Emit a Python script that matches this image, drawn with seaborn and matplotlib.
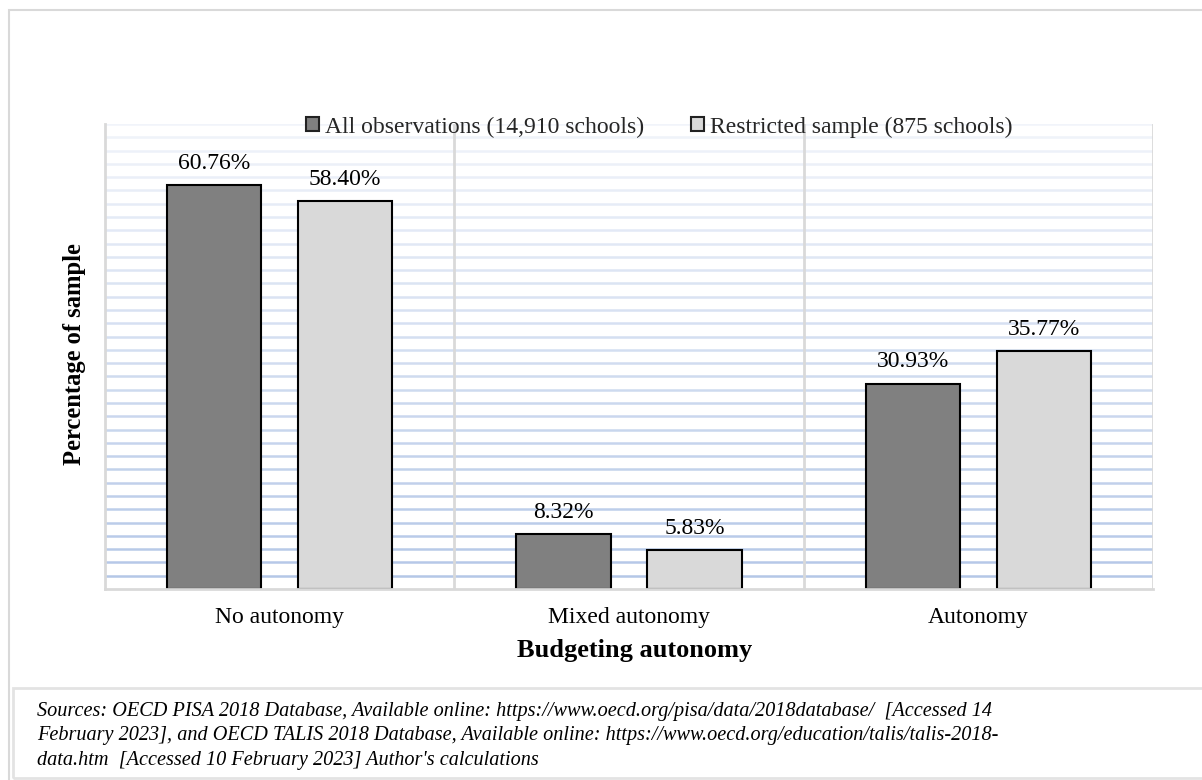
import matplotlib
matplotlib.use("Agg")
import matplotlib.pyplot as plt
import matplotlib.colors as mcolors
from matplotlib.patches import Rectangle
import seaborn as sns
import pandas as pd
import numpy as np

# ---- data ----
categories = ["No autonomy", "Mixed autonomy", "Autonomy"]
series_names = ["All observations (14,910 schools)", "Restricted sample (875 schools)"]
all_obs = [60.76, 8.32, 30.93]
restricted = [58.40, 5.83, 35.77]
x_title = "Budgeting autonomy"
y_title = "Percentage of sample"
caption = ("Sources: OECD PISA 2018 Database, Available online: https://www.oecd.org/pisa/data/2018database/  [Accessed 14\n"
           "February 2023], and OECD TALIS 2018 Database, Available online: https://www.oecd.org/education/talis/talis-2018-\n"
           "data.htm  [Accessed 10 February 2023] Author's calculations")

df = pd.DataFrame({
    "category": categories * 2,
    "series": [series_names[0]] * 3 + [series_names[1]] * 3,
    "value": all_obs + restricted,
})

sns.set_theme(style="white")
plt.rcParams["font.family"] = ["Liberation Serif", "DejaVu Serif"]

fig = plt.figure(figsize=(12.02, 7.8), dpi=100)
ax = fig.add_axes([105 / 1202, 1 - 589 / 780, 1048 / 1202, 465 / 780])

sns.barplot(data=df, x="category", y="value", hue="series", order=categories,
            hue_order=series_names, palette=["#808080", "#d9d9d9"],
            width=0.75, gap=0.28, edgecolor="black", linewidth=1.5,
            saturation=1, ax=ax, legend=True)

ax.set_ylim(0, 70)
ax.set_xlim(-0.5, 2.5)

# horizontal gridlines every 2%, fading from blue at the bottom to pale at the top
ax.set_yticks(np.arange(0, 72, 2))
ax.tick_params(axis="y", length=0, labelleft=False)
lo = np.array(mcolors.to_rgb("#b4c7e7"))
hi = np.array(mcolors.to_rgb("#f1f4fa"))
for y in np.arange(2, 72, 2):
    t = (y - 2) / (70 - 2)
    ax.axhline(y, color=tuple(lo * (1 - t) + hi * t), lw=1.8, zorder=0)

# vertical category separators
for xv in [0.5, 1.5, 2.5]:
    ax.axvline(xv, color="#d9d9d9", lw=2.0, zorder=0.5)

for side in ["top", "right"]:
    ax.spines[side].set_visible(False)
for side in ["left", "bottom"]:
    ax.spines[side].set_color("#d9d9d9")
    ax.spines[side].set_linewidth(2.0)

# value labels
for cont in ax.containers:
    ax.bar_label(cont, labels=[f"{v:.2f}%" for v in cont.datavalues],
                 padding=8, fontsize=17, color="black")

ax.tick_params(axis="x", length=0, pad=13, labelsize=17, labelcolor="black")
ax.set_xlabel(x_title, fontsize=19, fontweight="bold", color="black")
ax.xaxis.set_label_coords(0.505, -0.107)
ax.set_ylabel(y_title, fontsize=17.7, fontweight="bold", color="black")
ax.yaxis.set_label_coords(-0.018, 0.505)

# legend across the top
handles, labels = ax.get_legend_handles_labels()
ax.legend_.remove()
for h in handles:
    h.set_edgecolor("#222222")
    h.set_linewidth(1.5)
fig.legend(handles, labels, loc="center", bbox_to_anchor=(659 / 1202, 1 - 127 / 780),
           ncol=2, frameon=False, fontsize=17, handlelength=0.55, handleheight=0.55,
           handletextpad=0.25, columnspacing=2.0, borderpad=0)

# outer frame and caption box
fig.patches.append(Rectangle((9 / 1202, -0.01), 1.02, 1 - 10 / 780 + 0.01,
                             transform=fig.transFigure, fill=False,
                             edgecolor="#d9d9d9", lw=1.5, zorder=0))
fig.patches.append(Rectangle((13 / 1202, 2 / 780), 1.02, (780 - 688 - 2) / 780,
                             transform=fig.transFigure, fill=False,
                             edgecolor="#e3e3e3", lw=2.0, zorder=0))

fig.text(37 / 1202, 1 - 702 / 780, caption, fontsize=14.6, style="italic",
         color="black", va="top", ha="left", linespacing=1.38)

fig.savefig("out.png", dpi=100)
